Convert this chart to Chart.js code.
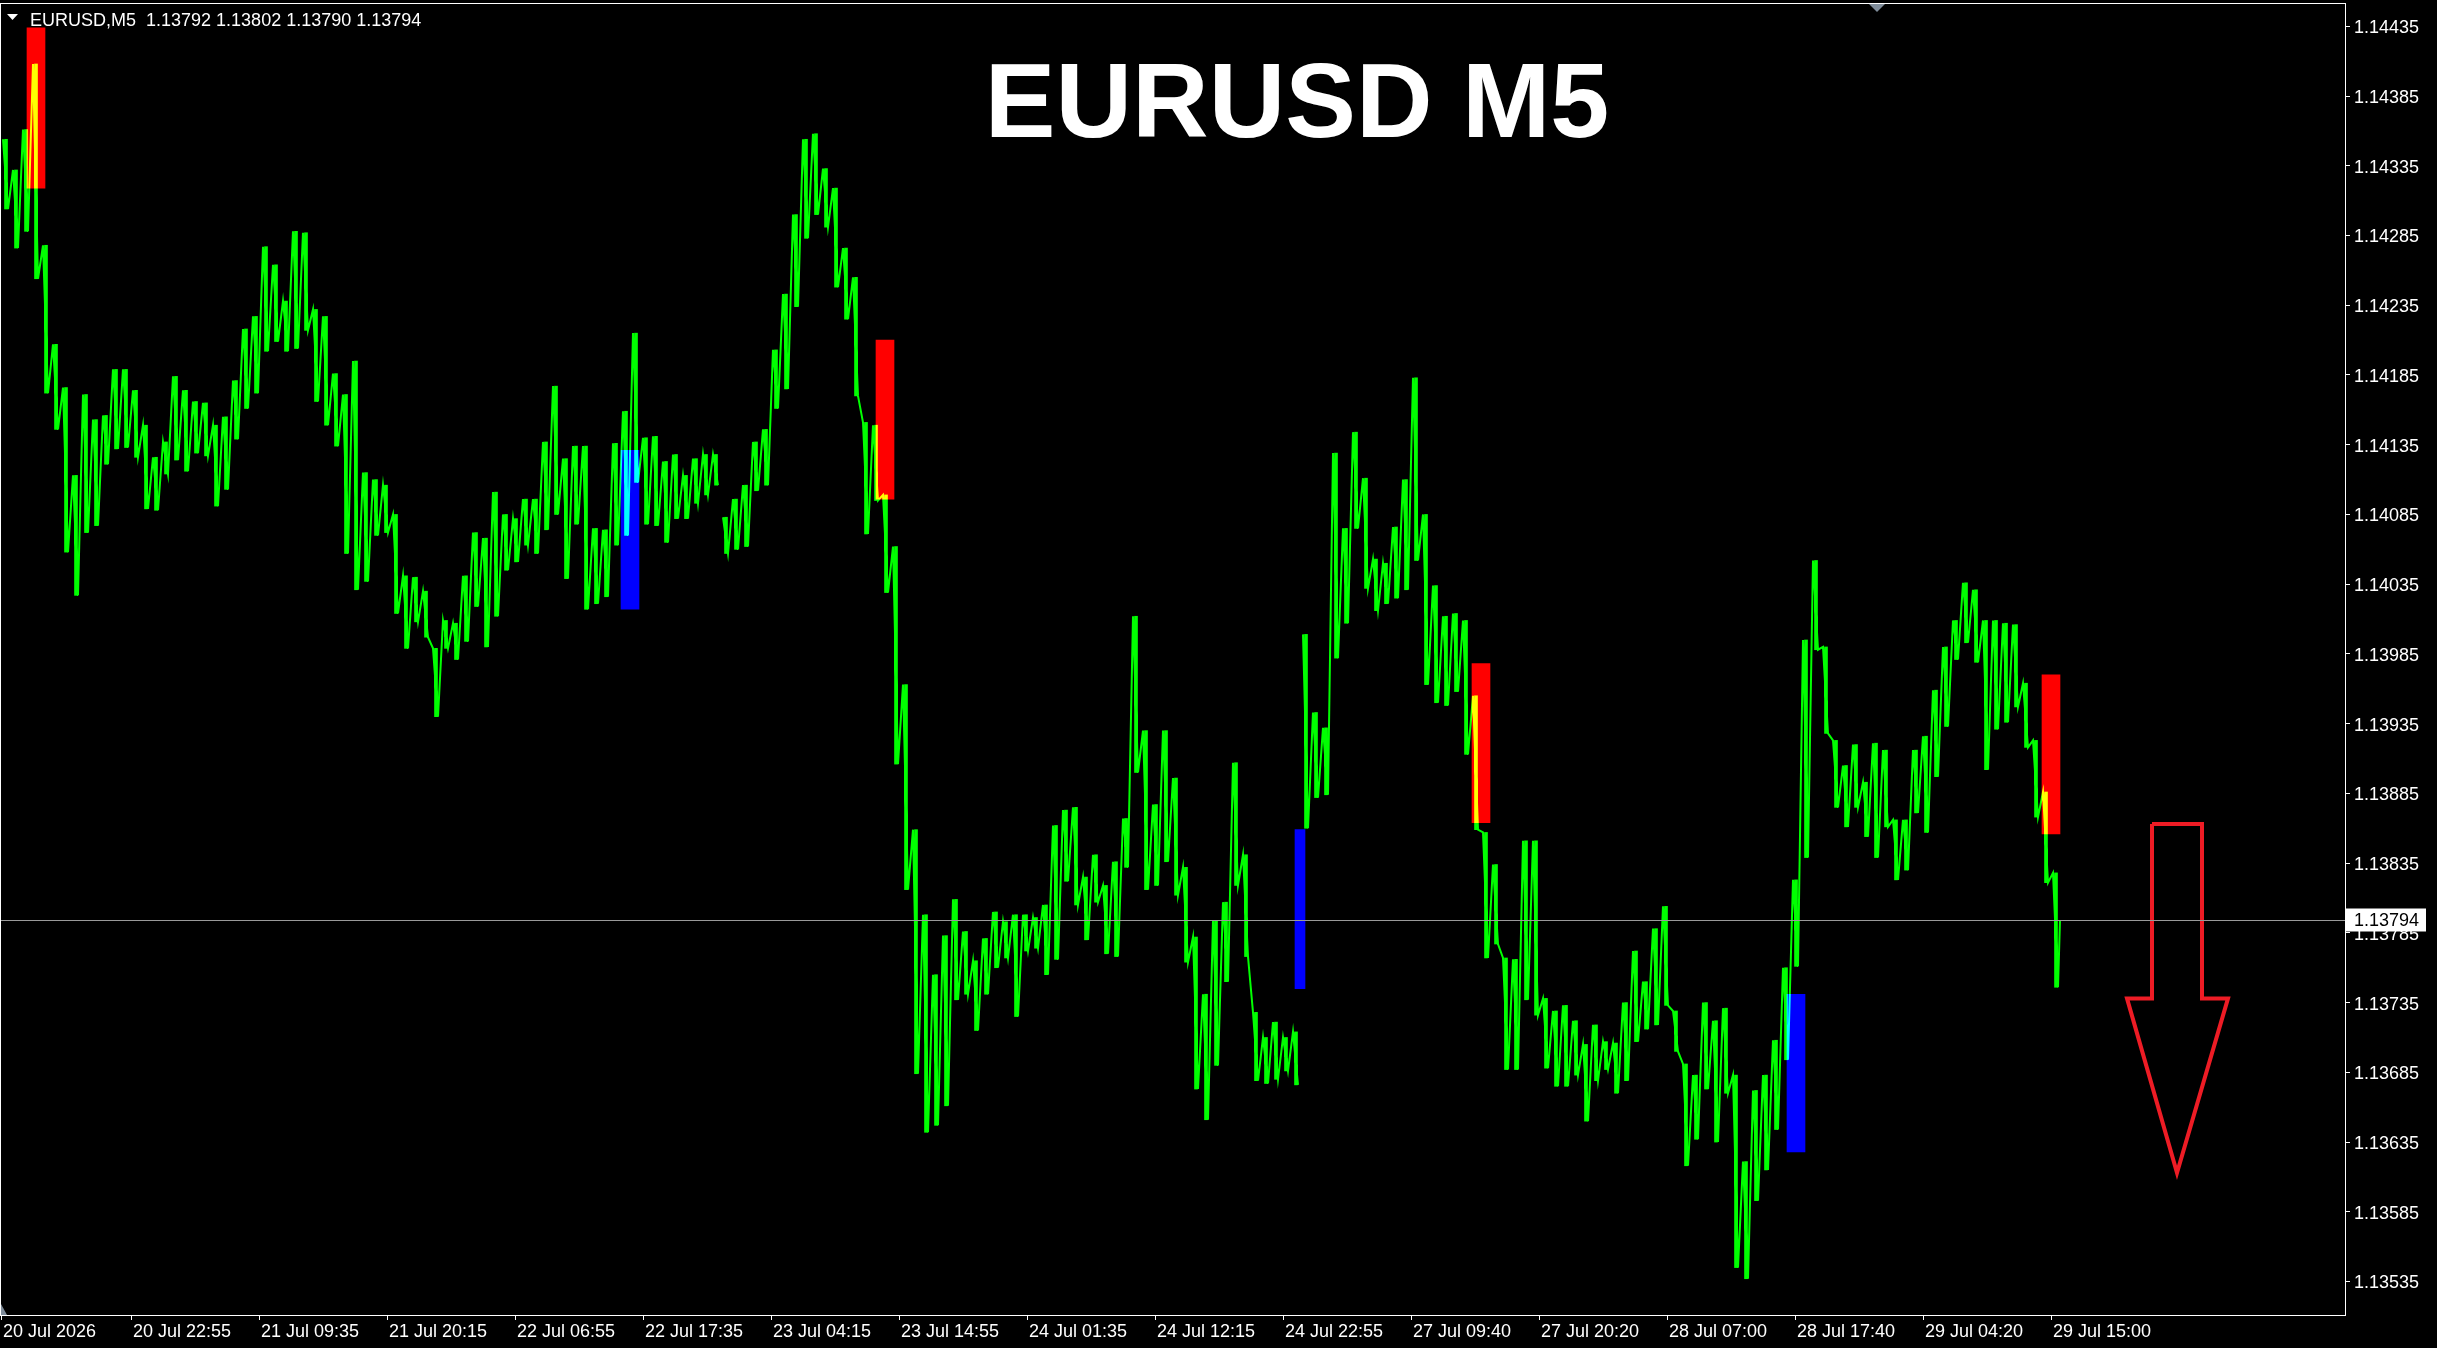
<!DOCTYPE html>
<html>
<head>
<meta charset="utf-8">
<title>EURUSD M5</title>
<script src="https://cdn.jsdelivr.net/npm/chart.js@4.4.1/dist/chart.umd.min.js"></script>
<style>
  html, body { margin: 0; padding: 0; background: #000; overflow: hidden; }
</style>
</head>
<body>
<canvas id="chart" width="2437" height="1348"></canvas>
<script>
// EURUSD M5 terminal snapshot, redrawn with Chart.js

const symbolLabel = 'EURUSD,M5';
const titleText = 'EURUSD M5';
const lastBar = [1.13792, 1.13802, 1.13790, 1.13794]; // open, high, low, close

// price trace sampled every 10 M5 bars: high / low of each block
const barsPerStep = 10;
const highs = [
  1.14354, 1.14332, 1.14361, 1.14408, 1.14278, 1.14207, 1.14176, 1.14113, 1.14171, 1.14153,
  1.14156, 1.14189, 1.14189, 1.14174, 1.14149, 1.14126, 1.14137, 1.14184, 1.14174, 1.14166,
  1.14165, 1.14149, 1.14155, 1.14181, 1.14218, 1.14227, 1.14277, 1.14264, 1.14238, 1.14288,
  1.14287, 1.14232, 1.14227, 1.14186, 1.14171, 1.14195, 1.14115, 1.14110, 1.14106, 1.14085,
  1.14041, 1.14040, 1.14030, 1.13989, 1.14009, 1.14007, 1.14041, 1.14072, 1.14068, 1.14101,
  1.14085, 1.14082, 1.14096, 1.14096, 1.14137, 1.14177, 1.14125, 1.14134, 1.14134, 1.14075,
  1.14074, 1.14136, 1.14159, 1.14215, 1.14140, 1.14141, 1.14123, 1.14128, 1.14113, 1.14125,
  1.14128, 1.14128, 1.14083, 1.14096, 1.14106, 1.14137, 1.14146, 1.14203, 1.14243, 1.14300,
  1.14354, 1.14358, 1.14333, 1.14319, 1.14276, 1.14255, 1.14151, 1.14149, 1.14099, 1.14062,
  1.13963, 1.13859, 1.13798, 1.13755, 1.13783, 1.13809, 1.13786, 1.13765, 1.13781, 1.13800,
  1.13793, 1.13798, 1.13798, 1.13796, 1.13805, 1.13862, 1.13873, 1.13875, 1.13825, 1.13841,
  1.13819, 1.13836, 1.13867, 1.14012, 1.13930, 1.13877, 1.13930, 1.13896, 1.13832, 1.13782,
  1.13741, 1.13794, 1.13807, 1.13907, 1.13841, 1.13728, 1.13710, 1.13721, 1.13710, 1.13714,
  1.13999, 1.13943, 1.13932, 1.14129, 1.14075, 1.14144, 1.14111, 1.14053, 1.14050, 1.14076,
  1.14110, 1.14183, 1.14085, 1.14034, 1.14012, 1.14014, 1.14009, 1.13955, 1.13857, 1.13834,
  1.13767, 1.13766, 1.13851, 1.13851, 1.13738, 1.13729, 1.13733, 1.13722, 1.13705, 1.13719,
  1.13707, 1.13706, 1.13735, 1.13772, 1.13750, 1.13788, 1.13804, 1.13729, 1.13691, 1.13683,
  1.13735, 1.13722, 1.13731, 1.13683, 1.13621, 1.13672, 1.13683, 1.13708, 1.13760, 1.13823,
  1.13995, 1.14052, 1.13990, 1.13923, 1.13905, 1.13920, 1.13893, 1.13921, 1.13916, 1.13866,
  1.13866, 1.13916, 1.13926, 1.13959, 1.13990, 1.14009, 1.14036, 1.14031, 1.14009, 1.14009,
  1.14007, 1.14006, 1.13964, 1.13923, 1.13886, 1.13828
];
const lows = [
  1.14304, 1.14276, 1.14288, 1.14254, 1.14172, 1.14146, 1.14058, 1.14027, 1.14072, 1.14077,
  1.14121, 1.14132, 1.14133, 1.14126, 1.14089, 1.14088, 1.14114, 1.14124, 1.14116, 1.14129,
  1.14127, 1.14091, 1.14103, 1.14139, 1.14161, 1.14172, 1.14202, 1.14209, 1.14202, 1.14204,
  1.14217, 1.14166, 1.14149, 1.14134, 1.14057, 1.14031, 1.14037, 1.14070, 1.14072, 1.14014,
  1.13989, 1.14008, 1.13997, 1.13940, 1.13989, 1.13981, 1.13994, 1.14019, 1.13990, 1.14012,
  1.14045, 1.14051, 1.14063, 1.14057, 1.14074, 1.14085, 1.14039, 1.14078, 1.14017, 1.14021,
  1.14026, 1.14063, 1.14070, 1.14108, 1.14078, 1.14077, 1.14065, 1.14082, 1.14082, 1.14093,
  1.14099, 1.14106, 1.14057, 1.14060, 1.14062, 1.14102, 1.14106, 1.14161, 1.14175, 1.14234,
  1.14283, 1.14300, 1.14291, 1.14248, 1.14225, 1.14170, 1.14071, 1.14095, 1.14029, 1.13906,
  1.13816, 1.13684, 1.13642, 1.13647, 1.13661, 1.13737, 1.13741, 1.13715, 1.13741, 1.13760,
  1.13767, 1.13725, 1.13772, 1.13774, 1.13755, 1.13766, 1.13822, 1.13805, 1.13780, 1.13807,
  1.13770, 1.13768, 1.13832, 1.13900, 1.13816, 1.13819, 1.13836, 1.13812, 1.13764, 1.13673,
  1.13651, 1.13690, 1.13750, 1.13819, 1.13768, 1.13679, 1.13677, 1.13680, 1.13686, 1.13676,
  1.13860, 1.13882, 1.13884, 1.13982, 1.14007, 1.14075, 1.14032, 1.14016, 1.14021, 1.14025,
  1.14031, 1.14052, 1.13963, 1.13950, 1.13948, 1.13958, 1.13913, 1.13859, 1.13767, 1.13777,
  1.13687, 1.13687, 1.13737, 1.13726, 1.13688, 1.13675, 1.13675, 1.13683, 1.13650, 1.13679,
  1.13687, 1.13670, 1.13679, 1.13707, 1.13716, 1.13719, 1.13733, 1.13700, 1.13618, 1.13637,
  1.13673, 1.13635, 1.13670, 1.13545, 1.13537, 1.13593, 1.13615, 1.13644, 1.13694, 1.13761,
  1.13839, 1.13988, 1.13928, 1.13875, 1.13861, 1.13875, 1.13854, 1.13839, 1.13861, 1.13823,
  1.13830, 1.13871, 1.13857, 1.13897, 1.13933, 1.13981, 1.13993, 1.13979, 1.13902, 1.13931,
  1.13936, 1.13947, 1.13918, 1.13868, 1.13821, 1.13746
];
// blocks after which the price line breaks (session gaps)
const gapAfter = [71, 129];

// signal histogram bars (bar index, top, bottom, side)
const signalBar = [35, 629, 884, 1299, 1480, 1795, 2050];
const signalTop = [1.14434, 1.14131, 1.14210, 1.13859, 1.13978, 1.13741, 1.13970];
const signalBottom = [1.14319, 1.14017, 1.14096, 1.13745, 1.13864, 1.13628, 1.13856];
const signalSide = ['sell', 'buy', 'sell', 'buy', 'sell', 'buy', 'sell'];

// hollow sell arrow drawn right of the last bar
const arrowBar = [2151, 2201, 2201, 2227, 2176, 2126, 2151, 2151];
const arrowPrice = [1.13863, 1.13863, 1.13738, 1.13738, 1.13613, 1.13738, 1.13738, 1.13863];

// axes
const visibleBars = 2344;
const priceMin = 1.13511;
const priceMax = 1.14451;
const yTicks = [1.13535, 1.13585, 1.13635, 1.13685, 1.13735, 1.13785, 1.13835, 1.13885, 1.13935,
  1.13985, 1.14035, 1.14085, 1.14135, 1.14185, 1.14235, 1.14285, 1.14335, 1.14385, 1.14435];
const xTickBars = [0, 130, 258, 386, 514, 642, 770, 898, 1026, 1154, 1282, 1410, 1538, 1666, 1794, 1922, 2050];
const xTickLabels = ['20 Jul 2026', '20 Jul 22:55', '21 Jul 09:35', '21 Jul 20:15', '22 Jul 06:55',
  '22 Jul 17:35', '23 Jul 04:15', '23 Jul 14:55', '24 Jul 01:35', '24 Jul 12:15', '24 Jul 22:55',
  '27 Jul 09:40', '27 Jul 20:20', '28 Jul 07:00', '28 Jul 17:40', '29 Jul 04:20', '29 Jul 15:00'];

const FONT = '"Liberation Sans", Arial, sans-serif';
const PRICE_GREEN = '#00ff00';
const SELL_RED = '#ff0000';
const BUY_BLUE = '#0000ff';

// zigzag through each block's high and low
const pricePoints = [];
highs.forEach((h, k) => {
  pricePoints.push({ x: k * barsPerStep + 2, y: h });
  pricePoints.push({ x: k * barsPerStep + 7, y: lows[k] });
  if (gapAfter.includes(k)) pricePoints.push({ x: k * barsPerStep + 9, y: null });
});
pricePoints.push({ x: highs.length * barsPerStep - 1, y: lastBar[3] });

// high-low range of each block as thin vertical strokes
const rangeBars = highs.map((h, k) => ({ x: k * barsPerStep + 5, y: [lows[k], h] }));

const wideIdx = signalBar.map((b, i) => i).filter(i => i !== 3);
const narrowIdx = [3];
const signalData = idx => idx.map(i => ({ x: signalBar[i], y: [signalBottom[i], signalTop[i]], side: signalSide[i] }));
const sideColor = c => (c.raw && c.raw.side === 'buy') ? BUY_BLUE : SELL_RED;

const arrowPoints = arrowBar.map((b, i) => ({ x: b, y: arrowPrice[i] }));

// MT4-ish decorations
const additive = ['price', 'range'];
const terminalPlugin = {
  id: 'terminal',
  beforeDraw(chart) {
    const ctx = chart.ctx;
    ctx.save();
    ctx.fillStyle = '#000';
    ctx.fillRect(0, 0, chart.width, chart.height);
    ctx.restore();
  },
  beforeDatasetDraw(chart, args) {
    if (additive.includes(args.meta.label)) {
      chart.ctx.save();
      chart.ctx.globalCompositeOperation = 'lighter';
    }
  },
  afterDatasetDraw(chart, args) {
    if (additive.includes(args.meta.label)) chart.ctx.restore();
  },
  afterDraw(chart) {
    const ctx = chart.ctx;
    const a = chart.chartArea;
    const y = chart.scales.y;
    ctx.save();

    // frame
    ctx.strokeStyle = '#ffffff';
    ctx.lineWidth = 1;
    ctx.strokeRect(a.left - 0.5, a.top - 0.5, a.right - a.left + 1, a.bottom - a.top + 1);

    // current price line and label
    const py = Math.round(y.getPixelForValue(lastBar[3])) + 0.5;
    ctx.strokeStyle = '#9a9a9a';
    ctx.beginPath();
    ctx.moveTo(a.left, py);
    ctx.lineTo(a.right, py);
    ctx.stroke();
    ctx.fillStyle = '#ffffff';
    ctx.fillRect(a.right + 1, py - 12, 80, 23);
    ctx.fillStyle = '#000000';
    ctx.font = '18px ' + FONT;
    ctx.textBaseline = 'middle';
    ctx.textAlign = 'left';
    ctx.fillText(lastBar[3].toFixed(5), a.right + 9, py + 1);

    // header
    ctx.fillStyle = '#ffffff';
    ctx.beginPath();
    ctx.moveTo(7, 14); ctx.lineTo(18, 14); ctx.lineTo(12.5, 20);
    ctx.closePath();
    ctx.fill();
    ctx.textBaseline = 'alphabetic';
    ctx.fillText(symbolLabel + '  ' + lastBar.map(v => v.toFixed(5)).join(' '), 30, 26);

    // big title
    ctx.font = 'bold 106px ' + FONT;
    ctx.textAlign = 'center';
    ctx.fillText(titleText, 1297, 137);

    // shift marker at top, scale marker bottom-left
    ctx.fillStyle = '#7f8c9a';
    ctx.beginPath();
    ctx.moveTo(1869, a.top); ctx.lineTo(1885, a.top); ctx.lineTo(1877, a.top + 8);
    ctx.closePath();
    ctx.fill();
    ctx.beginPath();
    ctx.moveTo(a.left, a.bottom - 11); ctx.lineTo(a.left + 6, a.bottom); ctx.lineTo(a.left, a.bottom);
    ctx.closePath();
    ctx.fill();
    ctx.restore();
  }
};

new Chart(document.getElementById('chart'), {
  type: 'line',
  data: {
    datasets: [
      {
        label: 'price',
        data: pricePoints,
        borderColor: PRICE_GREEN,
        borderWidth: 2,
        pointRadius: 0,
        tension: 0,
        spanGaps: false,
        order: 0
      },
      {
        type: 'bar',
        label: 'range',
        data: rangeBars,
        backgroundColor: PRICE_GREEN,
        borderWidth: 0,
        barThickness: 3,
        grouped: false,
        order: 0
      },
      {
        label: 'arrow',
        data: arrowPoints,
        borderColor: '#ee1c25',
        borderWidth: 4,
        borderJoinStyle: 'miter',
        pointRadius: 0,
        tension: 0,
        fill: false,
        order: 1
      },
      {
        type: 'bar',
        label: 'signals',
        data: signalData(wideIdx),
        backgroundColor: sideColor,
        borderWidth: 0,
        barThickness: 18,
        grouped: false,
        order: 2
      },
      {
        type: 'bar',
        label: 'signals-narrow',
        data: signalData(narrowIdx),
        backgroundColor: sideColor,
        borderWidth: 0,
        barThickness: 10,
        grouped: false,
        order: 2
      }
    ]
  },
  options: {
    responsive: false,
    animation: false,
    devicePixelRatio: 1,
    layout: { padding: { left: 1, top: 4, right: 0, bottom: 0 } },
    plugins: {
      legend: { display: false },
      tooltip: { enabled: false }
    },
    scales: {
      x: {
        type: 'linear',
        position: 'bottom',
        min: 0,
        max: visibleBars,
        offset: false,
        border: { display: false },
        grid: { display: true, drawOnChartArea: false, drawTicks: true, tickLength: 5, tickColor: '#ffffff', offset: false },
        afterBuildTicks: s => { s.ticks = xTickBars.map(v => ({ value: v })); },
        afterFit: s => { s.height = 33; s.paddingLeft = 0; s.paddingRight = 0; },
        ticks: {
          autoSkip: false,
          maxRotation: 0,
          minRotation: 0,
          align: 'start',
          labelOffset: 2,
          padding: 1,
          color: '#ffffff',
          font: { family: FONT, size: 18 },
          callback: (v, i) => xTickLabels[i]
        }
      },
      y: {
        type: 'linear',
        position: 'right',
        min: priceMin,
        max: priceMax,
        beginAtZero: false,
        border: { display: false },
        grid: { display: true, drawOnChartArea: false, drawTicks: true, tickLength: 5, tickColor: '#ffffff' },
        afterBuildTicks: s => { s.ticks = yTicks.map(v => ({ value: v })); },
        afterFit: s => { s.width = 92; s.paddingTop = 0; s.paddingBottom = 0; },
        ticks: {
          crossAlign: 'near',
          padding: 4,
          labelOffset: 2,
          color: '#ffffff',
          font: { family: FONT, size: 18 },
          callback: v => v.toFixed(5)
        }
      }
    }
  },
  plugins: [terminalPlugin]
});
</script>
</body>
</html>
